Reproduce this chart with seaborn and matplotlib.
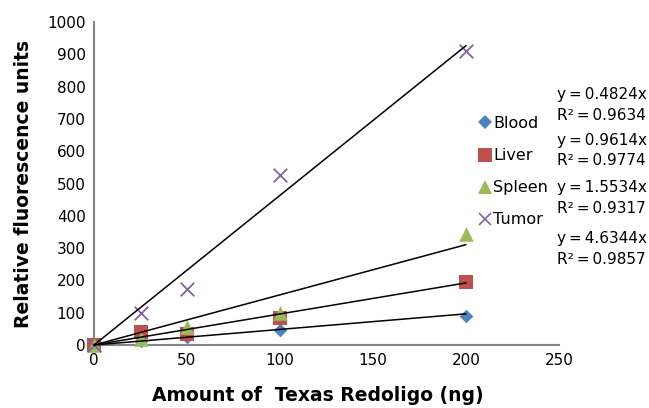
import matplotlib
matplotlib.use("Agg")
import matplotlib.pyplot as plt
import seaborn as sns
import pandas as pd
from matplotlib.lines import Line2D

sns.set_style("white")
plt.rcParams['font.family'] = ['DejaVu Sans']
plt.rcParams['text.color'] = 'black'
plt.rcParams['axes.labelcolor'] = 'black'

amount = [0, 25, 50, 100, 200]
blood = [0, 12, 25, 45, 90]
liver = [0, 40, 34, 84, 195]
spleen = [0, 20, 55, 99, 345]
tumor = [0, 100, 172, 526, 909]
series_names = ["Blood", "Liver", "Spleen", "Tumor"]
slopes = [0.4824, 0.9614, 1.5534, 4.6344]
r2 = [0.9634, 0.9774, 0.9317, 0.9857]
x_ticks = [0, 50, 100, 150, 200, 250]
y_ticks = [0, 100, 200, 300, 400, 500, 600, 700, 800, 900, 1000]

colors = ["#4F81BD", "#C0504D", "#9BBB59", "#8064A2"]
markers = ["D", "s", "^", "x"]
sizes = [48, 100, 110, 95]

fig = plt.figure(figsize=(6.49, 4.08), dpi=100)
ax = fig.add_axes([94/649, 1-345/408, (559-94)/649, (345-22)/408])

values = [blood, liver, spleen, tumor]
for name, vals, c, m, s in zip(series_names, values, colors, markers, sizes):
    df = pd.DataFrame({"x": amount, "y": vals})
    if m == "x":
        sns.scatterplot(data=df, x="x", y="y", ax=ax, color=c, marker=m, s=s,
                        linewidth=1.3, clip_on=False, zorder=3)
    else:
        sns.scatterplot(data=df, x="x", y="y", ax=ax, color=c, marker=m, s=s,
                        linewidth=0, clip_on=False, zorder=3)

for k in slopes:
    line_df = pd.DataFrame({"x": [0, 200], "y": [0, k * 200]})
    sns.lineplot(data=line_df, x="x", y="y", ax=ax, color="black", linewidth=1.1,
                 zorder=4, clip_on=False)

ax.set_xlim(0, 250)
ax.set_ylim(0, 1000)
ax.set_xticks(x_ticks)
ax.set_yticks(y_ticks)
ax.tick_params(axis="both", direction="out", length=4, width=1, color="#868686",
               labelsize=11, labelcolor="black", pad=2)
for sp in ["top", "right"]:
    ax.spines[sp].set_visible(False)
for sp in ["left", "bottom"]:
    ax.spines[sp].set_color("#868686")
    ax.spines[sp].set_linewidth(1.5)

ax.set_xlabel("Amount of  Texas Redoligo (ng)", fontsize=13.5, fontweight="bold", color="black")
ax.set_ylabel("Relative fluorescence units", fontsize=13.5, fontweight="bold", color="black")
ax.xaxis.set_label_coords((318-94)/465, (345-386)/323)
ax.yaxis.set_label_coords((33-94)/465, 0.5)

handles = []
for name, c, m in zip(series_names, colors, markers):
    if m == "x":
        h = Line2D([], [], linestyle="none", marker=m, color=c, markersize=8.5, markeredgewidth=1.2)
    elif m == "D":
        h = Line2D([], [], linestyle="none", marker=m, color=c, markersize=7, markeredgewidth=0)
    else:
        h = Line2D([], [], linestyle="none", marker=m, color=c, markersize=9.5, markeredgewidth=0)
    handles.append(h)
leg = fig.legend(handles, series_names, loc="upper left", bbox_to_anchor=(479/649, 1-116/408),
                 frameon=False, fontsize=11.5, handlelength=0.8, handletextpad=0.1,
                 labelspacing=1.07, borderpad=0, borderaxespad=0, labelcolor="black")

eq_y = [93, 139, 187, 237]
for k, r, yy in zip(slopes, r2, eq_y):
    fig.text(557/649, 1-(yy+1)/408, f"y\u2009=\u2009{k:.4f}x", fontsize=11, va="center",
             ha="left", color="black")
    fig.text(557/649, 1-(yy+22)/408, f"R²\u2009=\u2009{r:.4f}", fontsize=11, va="center",
             ha="left", color="black")

fig.savefig("out.png", dpi=100)
